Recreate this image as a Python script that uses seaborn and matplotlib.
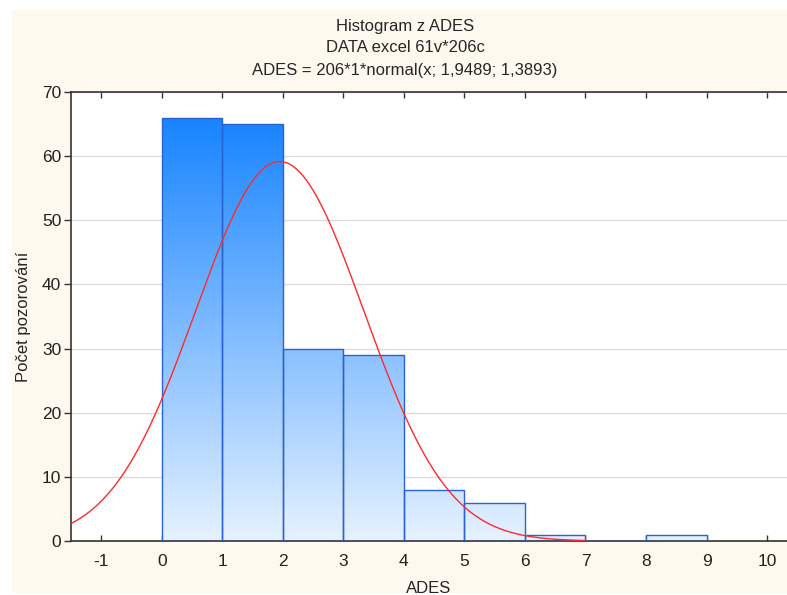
import numpy as np
import pandas as pd
import seaborn as sns
import matplotlib.pyplot as plt
from matplotlib.colors import LinearSegmentedColormap
from matplotlib.patches import Rectangle

# histogram data
bin_edges = [0, 1, 2, 3, 4, 5, 6, 7, 8, 9]
counts = [66, 65, 30, 29, 8, 6, 1, 0, 1]
# fitted normal as given in the title
n_obs = 206
bin_width = 1
mean_ades = 1.9489
sd_ades = 1.3893

x_ticks = [-1, 0, 1, 2, 3, 4, 5, 6, 7, 8, 9, 10]
y_ticks = [0, 10, 20, 30, 40, 50, 60, 70]

sns.set_style("white")
plt.rcParams['font.family'] = ['Liberation Sans', 'DejaVu Sans']
plt.rcParams['axes.unicode_minus'] = False

fig = plt.figure(figsize=(7.87, 5.95), dpi=100)
fig.patch.set_facecolor("white")
# cream panel behind everything
fig.patches.append(Rectangle((12 / 787, 2 / 595), 1 - 12 / 787, 583 / 595,
                             transform=fig.transFigure, facecolor="#fdf9ef",
                             edgecolor="none", zorder=-10))

ax = fig.add_axes([71 / 787, 54 / 595, 1 - 71 / 787, 449 / 595])
ax.set_facecolor("white")

df = pd.DataFrame({
    "center": [e + 0.5 for e in bin_edges[:-1]],
    "count": counts,
})
sns.histplot(data=df, x="center", weights="count", bins=bin_edges, ax=ax,
             stat="count", edgecolor="#2a62d4", linewidth=1.0,
             facecolor="none", alpha=1, zorder=3)

# vertical gradient inside each bar, tied to the y value
cmap = LinearSegmentedColormap.from_list("bar", ["#e6f2ff", "#0a7dff"])
grad = np.linspace(0, 1, 256).reshape(-1, 1)
for p in ax.patches:
    if p.get_height() <= 0:
        continue
    p.set_facecolor("none")
    im = ax.imshow(grad, cmap=cmap, origin="lower", aspect="auto",
                   extent=(-1.5, 10.33, 0, 70), zorder=2)
    im.set_clip_path(p)
ax.set_xlim(-1.5, 10.33)
ax.set_ylim(0, 70)

# normal curve
xs = np.linspace(-1.5, 7, 300)
ys = n_obs * bin_width * np.exp(-0.5 * ((xs - mean_ades) / sd_ades) ** 2) / (sd_ades * np.sqrt(2 * np.pi))
sns.lineplot(x=xs, y=ys, ax=ax, color="#ff2a2a", linewidth=1.0, zorder=4)

ax.set_xticks(x_ticks)
ax.set_yticks(y_ticks)
ax.yaxis.grid(True, color="#dcdcdc", linewidth=1.0)
ax.set_axisbelow(True)
ax.tick_params(axis="x", direction="in", top=True, bottom=True, length=4,
               width=1, color="#333333", labelsize=12.5, pad=9, labelcolor="#222222")
ax.tick_params(axis="y", direction="out", left=True, length=5, width=1,
               color="#333333", labelsize=12.5, pad=2, labelcolor="#222222")
for side in ["left", "bottom", "top"]:
    ax.spines[side].set_color("#333333")
    ax.spines[side].set_linewidth(1.2)
ax.spines["right"].set_visible(False)

ax.set_xlabel("ADES", fontsize=12, labelpad=9)
ax.set_ylabel("Počet pozorování", fontsize=12, labelpad=8)

fig.text(405 / 787, 1 - 27 / 595, "Histogram z ADES", ha="center", va="center", fontsize=12)
fig.text(405 / 787, 1 - 48 / 595, "DATA excel 61v*206c", ha="center", va="center", fontsize=12)
fig.text(405 / 787, 1 - 70 / 595, "ADES = 206*1*normal(x; 1,9489; 1,3893)",
         ha="center", va="center", fontsize=12)

fig.savefig("out.png", dpi=100, facecolor=fig.get_facecolor())
